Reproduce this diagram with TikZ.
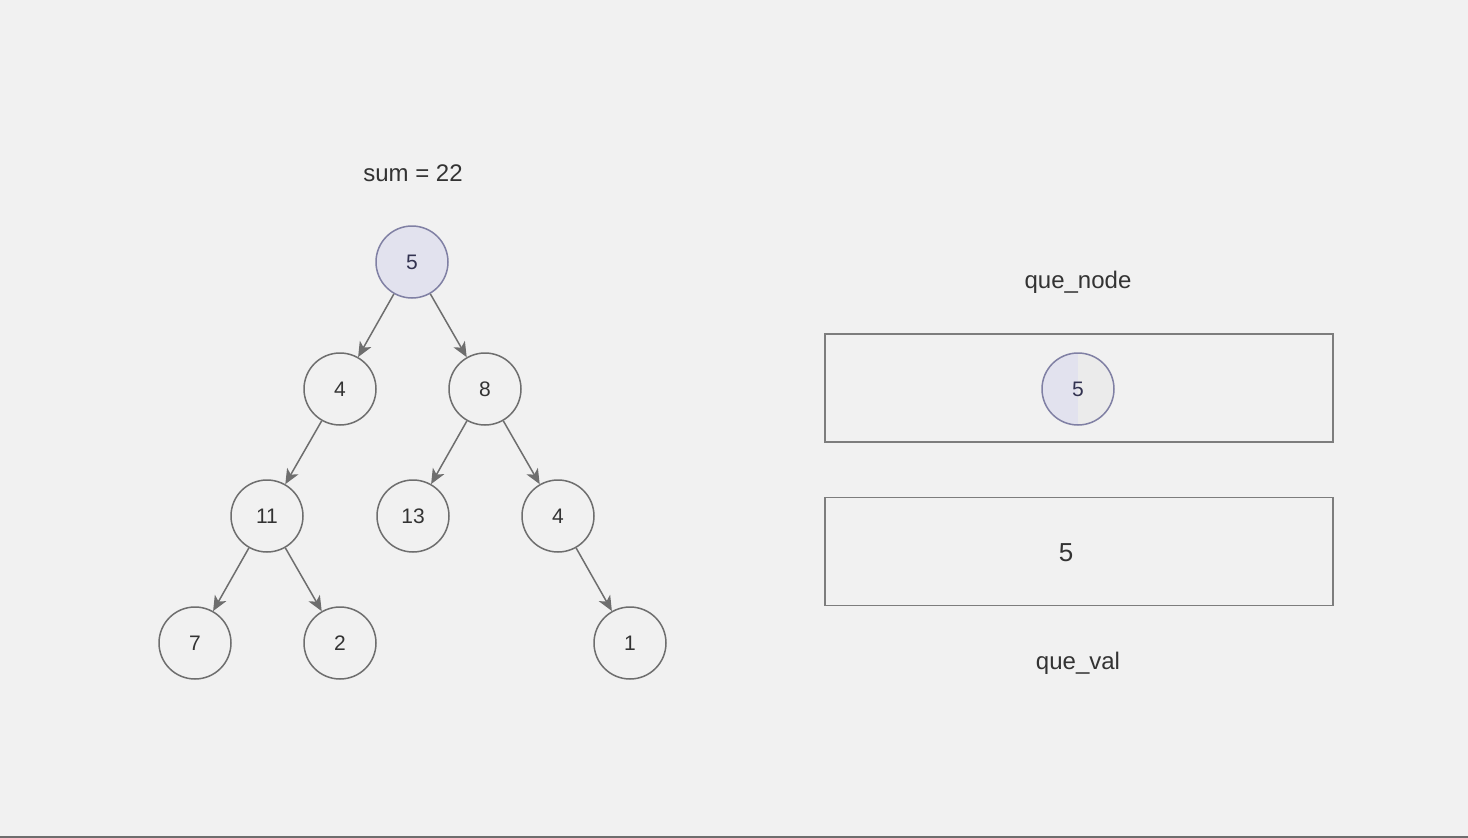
\documentclass[tikz,border=0pt]{standalone}
\usepackage{fontspec}
\setmainfont{Liberation Sans}
\usetikzlibrary{arrows.meta}
\definecolor{bg}{HTML}{F1F1F1}
\definecolor{linec}{HTML}{6E6E6E}
\definecolor{txt}{HTML}{333333}
\definecolor{lav}{HTML}{E2E2EE}
\definecolor{lavline}{HTML}{8080A4}
\definecolor{qgray}{HTML}{EBEBEB}
\begin{document}
\begin{tikzpicture}[x=1pt,y=-1pt,
  tnode/.style={circle, draw=linec, line width=1.5pt, minimum size=72pt, inner sep=0pt,
    text=txt, font=\fontsize{21}{25}\selectfont},
  hnode/.style={tnode, draw=lavline, fill=lav, text={rgb,255:red,50;green,50;blue,80}},
  edge/.style={draw=linec, line width=1.5pt, -{Stealth[length=15pt,width=13pt,inset=4pt]}},
  qbox/.style={draw=linec!90, line width=1.8pt, minimum width=508pt, minimum height=108pt, inner sep=0pt},
  lbl/.style={text=txt, font=\fontsize{24}{28}\selectfont, inner sep=0pt}
]
\fill[bg] (0,0) rectangle (1468,838);
\useasboundingbox (0,0) rectangle (1468,838);
\draw[linec, line width=2pt] (0,837) -- (1468,837);

% labels
\node[lbl] (sum) at (413,173) {sum = 22};
\node[lbl] (qnl) at (1078,282) {que\_node};
\node[lbl] (qvl) at (1078,663) {que\_val};

% tree
\node[hnode] (r) at (412,262) {5};
\node[tnode] (a) at (340,389) {4};
\node[tnode] (b) at (485,389) {8};
\node[tnode] (c) at (267,516) {11};
\node[tnode] (d) at (413,516) {13};
\node[tnode] (e) at (558,516) {4};
\node[tnode] (f) at (195,643) {7};
\node[tnode] (g) at (340,643) {2};
\node[tnode] (h) at (630,643) {1};

\draw[edge] (r) -- (a);
\draw[edge] (r) -- (b);
\draw[edge] (a) -- (c);
\draw[edge] (b) -- (d);
\draw[edge] (b) -- (e);
\draw[edge] (c) -- (f);
\draw[edge] (c) -- (g);
\draw[edge] (e) -- (h);

% queues
\node[qbox] (qn) at (1079,388) {};
\node[qbox] (qv) at (1079,551.5) {};
\node[tnode, draw=lavline, fill=qgray, text={rgb,255:red,50;green,50;blue,80},
  path picture={\fill[lav] (path picture bounding box.south west) rectangle (path picture bounding box.north);}]
  (q) at (1078,389) {5};
\node[text=txt, font=\fontsize{26}{30}\selectfont, inner sep=0pt] (qvv) at (1066,553) {5};
\end{tikzpicture}
\end{document}
